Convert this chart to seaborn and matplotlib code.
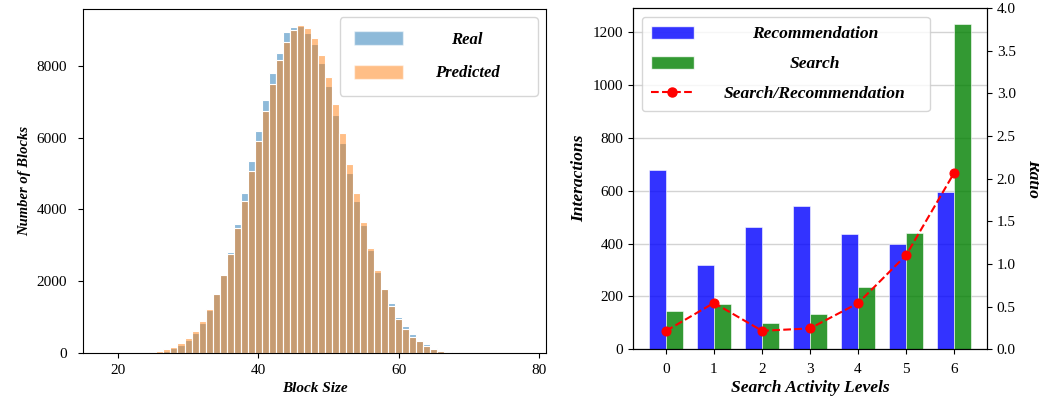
import numpy as np
import pandas as pd
import matplotlib
matplotlib.use("Agg")
import matplotlib.pyplot as plt
from matplotlib.patches import Patch
from matplotlib.lines import Line2D
import seaborn as sns

# Block size distribution: number of blocks per size
block_sizes = list(range(22, 72))
real_counts = [2, 3, 6, 10, 22, 65, 139, 236, 362, 557,
               830, 1198, 1650, 2170, 2822, 3593, 4448, 5357, 6193, 7047,
               7808, 8365, 8933, 9072, 9100, 8905, 8616, 8088, 7446, 6630,
               5841, 5022, 4243, 3557, 2860, 2265, 1790, 1384, 1012, 761,
               529, 371, 251, 148, 84, 47, 22, 11, 5, 2]
pred_counts = [3, 5, 9, 15, 46, 98, 180, 284, 423, 618,
               891, 1226, 1645, 2160, 2772, 3473, 4243, 5079, 5914, 6741,
               7493, 8162, 8655, 8997, 9130, 9044, 8765, 8292, 7679, 6936,
               6128, 5273, 4448, 3658, 2940, 2308, 1775, 1309, 938, 677,
               455, 325, 195, 111, 56, 30, 14, 7, 3, 1]

# Interactions by search activity level
activity_levels = [0, 1, 2, 3, 4, 5, 6]
recommendation = [679, 318, 461, 543, 437, 400, 595]
search = [146, 173, 100, 133, 236, 441, 1230]

plt.rcParams["font.family"] = ["Liberation Serif", "DejaVu Serif"]
plt.rcParams["axes.linewidth"] = 0.8

W, H = 1039, 398
fig = plt.figure(figsize=(W / 100, H / 100), dpi=100)

label_kw = dict(fontweight="bold", fontstyle="italic")


def center_legend_texts(leg, shift_px):
    """Center legend labels on one common axis, nudged left by shift_px."""
    fig.canvas.draw()
    r = fig.canvas.get_renderer()
    texts = leg.get_texts()
    widths = [t.get_window_extent(r).width for t in texts]
    maxw = max(widths)
    for t, w in zip(texts, widths):
        t.set_x((maxw - w) / 2 - shift_px)


# ---------------- left: histogram of block sizes ----------------
ax1 = fig.add_axes([83 / W, (H - 353) / H, 463 / W, 344 / H])
sns.histplot(x=block_sizes, weights=real_counts, discrete=True,
             color="#1f77b4", alpha=0.5, edgecolor="white", linewidth=0.8,
             ax=ax1)
sns.histplot(x=block_sizes, weights=pred_counts, discrete=True,
             color="#ff7f0e", alpha=0.5, edgecolor="white", linewidth=0.8,
             ax=ax1)
ax1.set_xlim(15.05, 80.95)
ax1.set_ylim(0, max(max(real_counts), max(pred_counts)) * 1.05)
ax1.set_xticks([20, 40, 60, 80])
ax1.set_yticks([0, 2000, 4000, 6000, 8000])
ax1.tick_params(labelsize=11)
ax1.tick_params(axis="y", pad=8)
ax1.tick_params(axis="x", pad=4.5)
ax1.set_xlabel("Block Size", fontsize=11, labelpad=3.5, **label_kw)
ax1.set_ylabel("Number of Blocks", fontsize=10.5, **label_kw)

hist_handles = [Patch(facecolor="#1f77b4", alpha=0.5, edgecolor="white"),
                Patch(facecolor="#ff7f0e", alpha=0.5, edgecolor="white")]
leg1 = ax1.legend(hist_handles, ["Real", "Predicted"], loc="upper right",
                  prop=dict(size=12, weight="bold", style="italic"),
                  handlelength=2.93, handleheight=0.9, handletextpad=3.35,
                  labelspacing=1.0, borderpad=0.85)

# ---------------- right: interactions and ratio ----------------
ax = fig.add_axes([633 / W, (H - 349.3) / H, 354 / W, 341.3 / H])
df = pd.DataFrame({
    "level": activity_levels * 2,
    "value": recommendation + search,
    "kind": ["Recommendation"] * len(activity_levels) + ["Search"] * len(activity_levels),
})
sns.barplot(data=df, x="level", y="value", hue="kind",
            palette={"Recommendation": "blue", "Search": "green"},
            saturation=1, alpha=0.8, width=0.7, native_scale=True,
            errorbar=None, legend=False, edgecolor="white", linewidth=0.5,
            ax=ax)
ax.set_xlim(-0.685, 6.685)
ax.set_ylim(0, max(search) * 1.05)
ax.set_xticks(activity_levels)
ax.set_yticks([0, 200, 400, 600, 800, 1000, 1200])
ax.yaxis.grid(True, color="#d3d3d3", linewidth=1)
ax.set_axisbelow(True)
ax.tick_params(labelsize=11)
ax.tick_params(axis="x", pad=6.5)
ax.set_xlabel("Search Activity Levels", fontsize=12.6, labelpad=3, **label_kw)
ax.set_ylabel("Interactions", fontsize=12.6, **label_kw)

ratio = np.array(search) / np.array(recommendation)
ax2 = ax.twinx()
sns.lineplot(x=activity_levels, y=ratio, color="red", linestyle="--",
             linewidth=1.5, marker="o", markersize=6.5, markeredgecolor="red",
             ax=ax2)
ax2.set_ylim(0, 4)
ax2.set_yticks(np.arange(0, 4.01, 0.5))
ax2.tick_params(labelsize=11)
ax2.set_ylabel("Ratio", fontsize=12.6, rotation=270, va="bottom",
               labelpad=6.5, **label_kw)

bar_handles = [Patch(facecolor="blue", alpha=0.8, edgecolor="white"),
               Patch(facecolor="green", alpha=0.8, edgecolor="white"),
               Line2D([], [], color="red", linestyle="--", linewidth=1.5,
                      marker="o", markersize=6.5)]
leg2 = ax2.legend(bar_handles, ["Recommendation", "Search", "Search/Recommendation"],
                  loc="upper left",
                  prop=dict(size=12.6, weight="bold", style="italic"),
                  handlelength=2.46, handleheight=0.82, handletextpad=2.6,
                  labelspacing=0.75, borderpad=0.5)

center_legend_texts(leg1, 24)
center_legend_texts(leg2, 15)

fig.savefig("out.png", dpi=100)
